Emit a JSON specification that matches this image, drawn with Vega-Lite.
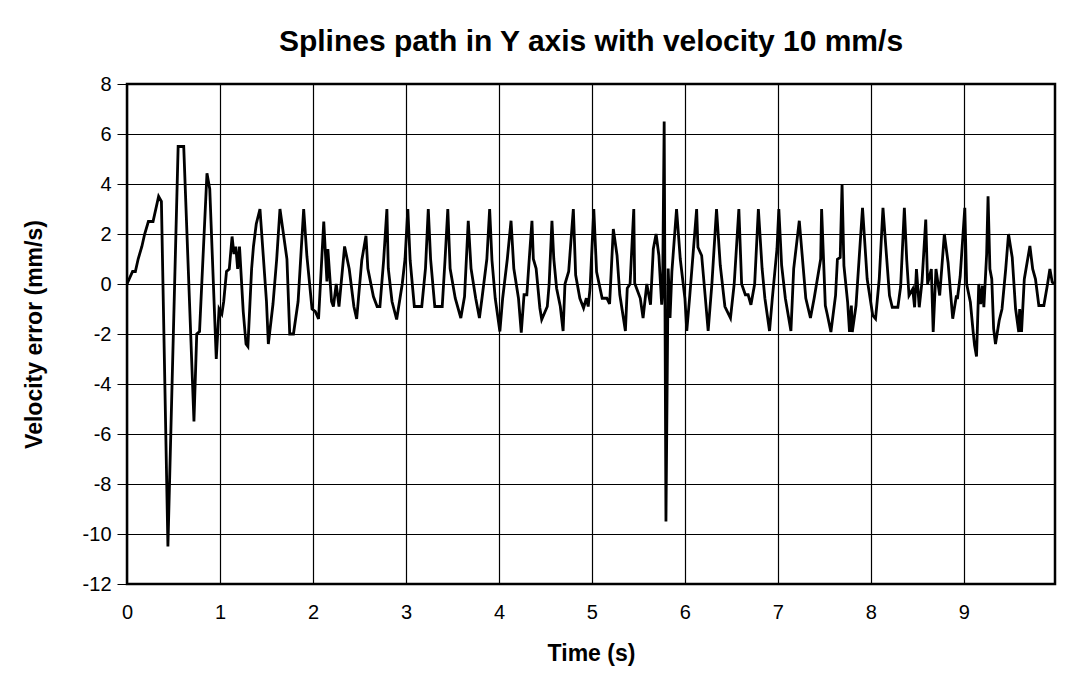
{
  "$schema": "https://vega.github.io/schema/vega-lite/v6.json",
  "width": 928,
  "height": 500,
  "autosize": "none",
  "padding": {"left": 127, "top": 84, "right": 34, "bottom": 108},
  "background": "white",
  "title": {"text": "Splines path in Y axis with velocity 10 mm/s", "font": "Liberation Sans", "fontSize": 30, "fontWeight": "bold", "color": "black", "anchor": "middle", "offset": 17},
  "config": {
    "view": {"stroke": "black", "strokeWidth": 2.5},
    "axis": {"labelFont": "Liberation Sans", "titleFont": "Liberation Sans", "labelColor": "black", "titleColor": "black", "gridColor": "black", "gridOpacity": 1, "gridWidth": 1.2, "domain": false}
  },
  "data": {"values": [
    {"t":0,"v":0},{"t":0.06,"v":0.5},{"t":0.09,"v":0.5},{"t":0.12,"v":1.0},{"t":0.16,"v":1.5},{"t":0.19,"v":2.0},{"t":0.23,"v":2.5},{"t":0.28,"v":2.5},{"t":0.34,"v":3.5},{"t":0.37,"v":3.3},
    {"t":0.44,"v":-10.5},{"t":0.55,"v":5.5},{"t":0.61,"v":5.5},{"t":0.72,"v":-5.5},{"t":0.75,"v":-2.0},{"t":0.78,"v":-1.9},{"t":0.86,"v":4.43},{"t":0.89,"v":3.8},{"t":0.96,"v":-3.0},{"t":0.99,"v":-1.0},
    {"t":1.02,"v":-1.2},{"t":1.04,"v":-0.7},{"t":1.07,"v":0.5},{"t":1.1,"v":0.6},{"t":1.13,"v":1.9},{"t":1.15,"v":1.2},{"t":1.17,"v":1.5},{"t":1.19,"v":0.6},{"t":1.21,"v":1.5},{"t":1.25,"v":-1.1},
    {"t":1.28,"v":-2.4},{"t":1.3,"v":-2.5},{"t":1.34,"v":0.6},{"t":1.36,"v":1.5},{"t":1.39,"v":2.4},{"t":1.43,"v":3.0},{"t":1.5,"v":-0.7},{"t":1.52,"v":-2.4},{"t":1.57,"v":-0.8},{"t":1.61,"v":1.0},
    {"t":1.645,"v":3.0},{"t":1.72,"v":1.0},{"t":1.75,"v":-2.0},{"t":1.79,"v":-2.0},{"t":1.84,"v":-0.7},{"t":1.9,"v":3.0},{"t":1.935,"v":1.1},{"t":1.99,"v":-1.0},{"t":2.025,"v":-1.1},{"t":2.06,"v":-1.4},
    {"t":2.116,"v":2.5},{"t":2.15,"v":0.1},{"t":2.16,"v":1.4},{"t":2.2,"v":-0.7},{"t":2.22,"v":-0.9},{"t":2.25,"v":0.0},{"t":2.28,"v":-0.9},{"t":2.34,"v":1.5},{"t":2.39,"v":0.6},{"t":2.44,"v":-0.9},
    {"t":2.47,"v":-1.4},{"t":2.525,"v":0.95},{"t":2.57,"v":1.93},{"t":2.59,"v":0.62},{"t":2.65,"v":-0.5},{"t":2.69,"v":-0.9},{"t":2.72,"v":-0.9},{"t":2.76,"v":0.95},{"t":2.795,"v":3.0},{"t":2.81,"v":0.62},
    {"t":2.85,"v":-0.7},{"t":2.9,"v":-1.42},{"t":2.96,"v":0},{"t":2.99,"v":1.0},{"t":3.02,"v":3.0},{"t":3.045,"v":0.95},{"t":3.09,"v":-0.9},{"t":3.17,"v":-0.9},{"t":3.21,"v":0.62},{"t":3.24,"v":3.0},
    {"t":3.265,"v":1.0},{"t":3.31,"v":-0.9},{"t":3.39,"v":-0.9},{"t":3.42,"v":0.95},{"t":3.45,"v":3.0},{"t":3.475,"v":0.62},{"t":3.53,"v":-0.57},{"t":3.59,"v":-1.36},{"t":3.63,"v":-0.5},{"t":3.67,"v":2.53},
    {"t":3.7,"v":0.62},{"t":3.75,"v":-0.57},{"t":3.79,"v":-1.36},{"t":3.82,"v":-0.5},{"t":3.87,"v":1.0},{"t":3.9,"v":3.0},{"t":3.925,"v":0.95},{"t":3.96,"v":-0.57},{"t":4.01,"v":-1.9},{"t":4.04,"v":-0.57},
    {"t":4.09,"v":1.0},{"t":4.13,"v":2.53},{"t":4.16,"v":0.62},{"t":4.21,"v":-0.57},{"t":4.24,"v":-1.95},{"t":4.27,"v":-0.43},{"t":4.3,"v":-0.43},{"t":4.32,"v":0.68},{"t":4.355,"v":2.53},{"t":4.37,"v":1.0},
    {"t":4.4,"v":0.62},{"t":4.44,"v":-0.96},{"t":4.46,"v":-1.42},{"t":4.52,"v":-0.9},{"t":4.54,"v":0},{"t":4.57,"v":2.53},{"t":4.59,"v":1.0},{"t":4.62,"v":-0.17},{"t":4.66,"v":-0.9},{"t":4.69,"v":-1.88},
    {"t":4.71,"v":0},{"t":4.75,"v":0.5},{"t":4.8,"v":3.0},{"t":4.825,"v":0.36},{"t":4.87,"v":-0.57},{"t":4.91,"v":-0.96},{"t":4.94,"v":-0.57},{"t":4.96,"v":-0.9},{"t":4.98,"v":-0.17},{"t":5.02,"v":3.0},
    {"t":5.05,"v":0.49},{"t":5.11,"v":-0.57},{"t":5.16,"v":-0.57},{"t":5.19,"v":-0.8},{"t":5.23,"v":2.2},{"t":5.27,"v":1.14},{"t":5.3,"v":-0.43},{"t":5.36,"v":-1.88},{"t":5.38,"v":-0.17},{"t":5.41,"v":0},
    {"t":5.45,"v":3.0},{"t":5.46,"v":0.03},{"t":5.52,"v":-0.57},{"t":5.55,"v":-1.36},{"t":5.59,"v":0},{"t":5.63,"v":-0.83},{"t":5.66,"v":1.4},{"t":5.69,"v":2.0},{"t":5.72,"v":1.14},{"t":5.75,"v":-0.83},
    {"t":5.76,"v":-0.3},{"t":5.777,"v":6.5},{"t":5.796,"v":-9.5},{"t":5.82,"v":0.62},{"t":5.84,"v":-1.36},{"t":5.86,"v":0.5},{"t":5.91,"v":3.0},{"t":5.95,"v":1.0},{"t":6.0,"v":-0.57},{"t":6.02,"v":-1.88},
    {"t":6.05,"v":-0.57},{"t":6.126,"v":3.0},{"t":6.14,"v":1.47},{"t":6.18,"v":1.14},{"t":6.22,"v":-0.57},{"t":6.25,"v":-1.88},{"t":6.29,"v":0},{"t":6.34,"v":3.0},{"t":6.38,"v":0.75},{"t":6.43,"v":-0.9},
    {"t":6.49,"v":-1.36},{"t":6.53,"v":0},{"t":6.58,"v":3.0},{"t":6.61,"v":0},{"t":6.65,"v":-0.43},{"t":6.68,"v":-0.43},{"t":6.71,"v":-0.83},{"t":6.75,"v":0},{"t":6.79,"v":3.0},{"t":6.83,"v":0.62},
    {"t":6.86,"v":-0.57},{"t":6.91,"v":-1.88},{"t":6.94,"v":-0.57},{"t":6.99,"v":1.4},{"t":7.01,"v":3.0},{"t":7.04,"v":0.75},{"t":7.08,"v":-0.57},{"t":7.14,"v":-1.88},{"t":7.17,"v":0.62},{"t":7.23,"v":2.53},
    {"t":7.26,"v":1.2},{"t":7.3,"v":-0.57},{"t":7.35,"v":-1.36},{"t":7.39,"v":-0.57},{"t":7.46,"v":1.0},{"t":7.47,"v":3.0},{"t":7.49,"v":1.06},{"t":7.51,"v":-0.86},{"t":7.53,"v":-1.2},{"t":7.57,"v":-1.92},
    {"t":7.62,"v":-0.46},{"t":7.64,"v":0.99},{"t":7.67,"v":1.06},{"t":7.69,"v":4.0},{"t":7.71,"v":0.73},{"t":7.75,"v":-0.73},{"t":7.77,"v":-1.92},{"t":7.79,"v":-0.86},{"t":7.8,"v":-1.92},{"t":7.84,"v":-0.86},
    {"t":7.91,"v":3.05},{"t":7.96,"v":0.2},{"t":8.02,"v":-1.26},{"t":8.05,"v":-1.39},{"t":8.09,"v":0.2},{"t":8.13,"v":3.05},{"t":8.16,"v":1.52},{"t":8.2,"v":-0.46},{"t":8.23,"v":-0.93},{"t":8.29,"v":-0.93},
    {"t":8.32,"v":-0.1},{"t":8.36,"v":3.05},{"t":8.385,"v":0.99},{"t":8.41,"v":-0.46},{"t":8.45,"v":-0.2},{"t":8.47,"v":-0.93},{"t":8.49,"v":0.6},{"t":8.52,"v":-0.93},{"t":8.55,"v":0.1},{"t":8.59,"v":2.58},
    {"t":8.61,"v":0},{"t":8.65,"v":0.6},{"t":8.67,"v":-1.92},{"t":8.7,"v":0.6},{"t":8.74,"v":-0.46},{"t":8.79,"v":2.0},{"t":8.83,"v":0.86},{"t":8.88,"v":-1.39},{"t":8.92,"v":-0.46},{"t":8.93,"v":-0.6},
    {"t":8.96,"v":0.3},{"t":9.01,"v":3.05},{"t":9.03,"v":0},{"t":9.07,"v":-0.73},{"t":9.1,"v":-1.92},{"t":9.115,"v":-2.45},{"t":9.136,"v":-2.9},{"t":9.16,"v":0},{"t":9.18,"v":-0.8},{"t":9.2,"v":-0.07},
    {"t":9.215,"v":-0.93},{"t":9.245,"v":1.2},{"t":9.26,"v":3.51},{"t":9.28,"v":0.6},{"t":9.3,"v":0.2},{"t":9.32,"v":-1.79},{"t":9.34,"v":-2.4},{"t":9.38,"v":-1.46},{"t":9.41,"v":-1.0},{"t":9.45,"v":0.6},
    {"t":9.48,"v":2.0},{"t":9.52,"v":1.06},{"t":9.556,"v":-0.99},{"t":9.59,"v":-1.92},{"t":9.6,"v":-1.0},{"t":9.62,"v":-1.92},{"t":9.65,"v":0.2},{"t":9.71,"v":1.52},{"t":9.74,"v":0.6},{"t":9.77,"v":0.2},
    {"t":9.806,"v":-0.86},{"t":9.86,"v":-0.86},{"t":9.9,"v":0},{"t":9.925,"v":0.6},{"t":9.95,"v":0.07},{"t":9.98,"v":0}
  ]},
  "mark": {"type": "line", "color": "black", "strokeWidth": 2.8, "strokeJoin": "miter", "clip": true},
  "encoding": {
    "x": {"field": "t", "type": "quantitative", "scale": {"domain": [0, 9.98], "nice": false, "zero": false},
      "axis": {"title": "Time (s)", "values": [0,1,2,3,4,5,6,7,8,9], "ticks": false, "labelPadding": 18, "labelFontSize": 20, "titleFontSize": 23, "titleFontWeight": "bold", "titlePadding": 20, "labelFlush": false, "labelExpr": "'' + datum.value"}},
    "y": {"field": "v", "type": "quantitative", "scale": {"domain": [-12, 8], "nice": false, "zero": false},
      "axis": {"title": "Velocity error (mm/s)", "values": [-12,-10,-8,-6,-4,-2,0,2,4,6,8], "tickColor": "black", "tickSize": 10, "labelPadding": 6, "labelFontSize": 20, "titleFontSize": 23, "titleFontWeight": "bold", "titlePadding": 36, "labelExpr": "'' + datum.value"}}
  }
}
